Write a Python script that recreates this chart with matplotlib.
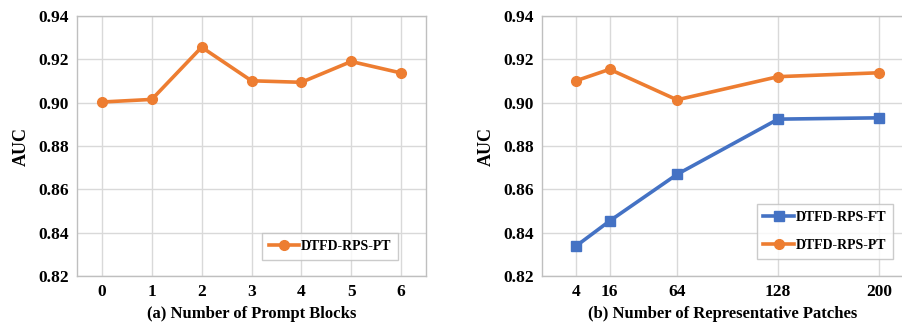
import matplotlib
matplotlib.use("Agg")
import matplotlib.pyplot as plt

blocks = ["0", "1", "2", "3", "4", "5", "6"]
pt_blocks = [0.9003, 0.9015, 0.9256, 0.9101, 0.9094, 0.9190, 0.9137]

patches = ["4", "16", "64", "128", "200"]
patch_pos = [1, 2, 4, 7, 10]
ft_patches = [0.8338, 0.8454, 0.8669, 0.8924, 0.8930]
pt_patches = [0.9101, 0.9154, 0.9013, 0.9120, 0.9138]

yticks = [0.82, 0.84, 0.86, 0.88, 0.90, 0.92, 0.94]

ORANGE = "#ED7D31"
BLUE = "#4472C4"
GRID = "#D9D9D9"
SPINE = "#BFBFBF"

plt.rcParams["font.family"] = ["Liberation Serif", "DejaVu Serif"]
plt.rcParams["font.weight"] = "bold"

fig = plt.figure(figsize=(9.02, 3.27), dpi=100)
ax1 = fig.add_axes([77/902, 1-276/327, (426-77)/902, 260/327])
ax2 = fig.add_axes([542.3/902, 1-276/327, (902-542.3)/902, 260/327])

def style(ax):
    ax.set_ylim(0.82, 0.94)
    ax.set_yticks(yticks)
    ax.set_yticklabels([f"{v:.2f}" for v in yticks], fontsize=12.5, fontweight="bold")
    ax.grid(True, color=GRID, linewidth=1.0)
    ax.set_axisbelow(True)
    ax.tick_params(length=0, pad=6)
    for s in ax.spines.values():
        s.set_color(SPINE)
        s.set_linewidth(1.0)
    ax.set_ylabel("AUC", fontsize=13, fontweight="bold", labelpad=6)

legend_kw = dict(prop={"size": 10, "weight": "bold"}, frameon=True, fancybox=False,
                 edgecolor=SPINE, handlelength=2.2, handletextpad=0.1,
                 borderpad=0.5, borderaxespad=0.0, loc="lower right")

# Left
x1 = list(range(len(blocks)))
ax1.plot(x1, pt_blocks, color=ORANGE, lw=2.6, marker="o", ms=7, label="DTFD-RPS-PT")
ax1.set_xlim(-0.5, len(blocks) - 0.5)
ax1.set_xticks(x1)
ax1.set_xticklabels(blocks, fontsize=12.5, fontweight="bold")
style(ax1)
ax1.set_xlabel("(a) Number of Prompt Blocks", fontsize=12, fontweight="bold", labelpad=4)
leg1 = ax1.legend(bbox_to_anchor=(0.920, 0.0615), **legend_kw)
leg1.get_frame().set_linewidth(1.0)

# Right
ax2.plot(patch_pos, ft_patches, color=BLUE, lw=2.6, marker="s", ms=7, label="DTFD-RPS-FT")
ax2.plot(patch_pos, pt_patches, color=ORANGE, lw=2.6, marker="o", ms=7, label="DTFD-RPS-PT")
ax2.set_xlim(0, 10.68)
ax2.set_xticks(patch_pos)
ax2.set_xticklabels(patches, fontsize=12.5, fontweight="bold")
style(ax2)
ax2.spines["right"].set_visible(False)
ax2.set_xlabel("(b) Number of Representative Patches", fontsize=12, fontweight="bold", labelpad=4)
leg2 = ax2.legend(bbox_to_anchor=(0.975, 0.065), labelspacing=1.1, **legend_kw)
leg2.get_frame().set_linewidth(1.0)

fig.savefig("out.png", dpi=100)
